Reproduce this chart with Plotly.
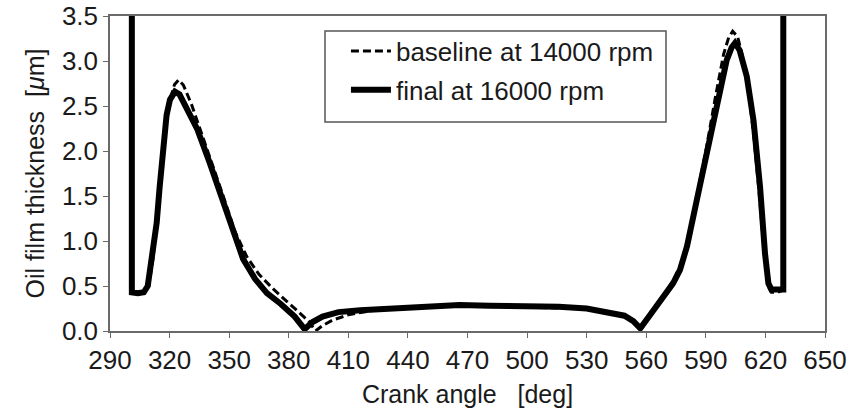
import plotly.graph_objects as go

# Crank angle [deg] and oil film thickness [um] for the two operating points
baseline_angle = [301, 301, 304, 307.5, 309.5, 311.5, 313.5, 315.5, 317.5, 320, 322.5, 324.5,
                  327, 331, 336, 341, 347, 353, 359, 365, 372, 379, 386, 390, 393.5, 397,
                  402, 410, 420, 430, 450, 470, 490, 510, 525, 535, 542, 548, 553, 557.5,
                  561, 565, 569, 573.5, 577, 580.5, 585, 590, 595, 599, 601.5, 603.5, 606,
                  608.5, 611, 614, 617, 619.5, 621.3, 623, 626, 628.7, 628.7]
baseline_thk = [4.5, 0.43, 0.42, 0.43, 0.5, 0.78, 1.2, 1.65, 2.15, 2.55, 2.74, 2.79,
                2.73, 2.52, 2.2, 1.9, 1.5, 1.1, 0.82, 0.63, 0.47, 0.33, 0.19, 0.11, 0.0, 0.06,
                0.12, 0.18, 0.22, 0.25, 0.27, 0.28, 0.27, 0.26, 0.25, 0.23, 0.21, 0.17, 0.11, 0.02,
                0.14, 0.26, 0.4, 0.56, 0.72, 0.95, 1.45, 2.0, 2.62, 3.08, 3.26, 3.33, 3.27,
                3.05, 2.75, 2.2, 1.5, 0.85, 0.5, 0.43, 0.43, 0.45, 4.5]

final_angle = [301, 301, 304, 307, 309, 311, 313.5, 315, 316.8, 318.5, 320.2, 322.7, 325,
               329, 334, 340, 345, 351, 357, 363, 369, 376, 383, 388, 392, 397, 405, 416,
               430, 447, 466, 481, 500, 516, 530, 542, 549, 553.5, 557, 561, 565, 569,
               573.5, 577, 580.5, 585.5, 590.5, 595.5, 600.5, 603, 604.7, 607, 610.6, 614,
               617.3, 619.8, 621.5, 623, 626, 629, 629]
final_thk = [4.5, 0.43, 0.42, 0.43, 0.5, 0.8, 1.2, 1.6, 2.09, 2.4, 2.57, 2.66, 2.63,
             2.47, 2.24, 1.88, 1.55, 1.15, 0.8, 0.58, 0.42, 0.3, 0.16, 0.02, 0.1, 0.16, 0.21, 0.23,
             0.25, 0.27, 0.29, 0.28, 0.28, 0.27, 0.25, 0.21, 0.17, 0.11, 0.03, 0.15, 0.27, 0.4,
             0.53, 0.68, 0.94, 1.46, 1.97, 2.53, 3.01, 3.15, 3.2, 3.12, 2.83, 2.34,
             1.6, 0.86, 0.53, 0.46, 0.46, 0.46, 4.5]

series_names = ["baseline at 14000 rpm", "final at 16000 rpm"]
x_ticks = [290, 320, 350, 380, 410, 440, 470, 500, 530, 560, 590, 620, 650]
y_ticks = [0.0, 0.5, 1.0, 1.5, 2.0, 2.5, 3.0, 3.5]

FONT = "Liberation Sans, Arial, sans-serif"
AXIS_GREY = "#6a6a6a"

fig = go.Figure()
fig.add_trace(go.Scatter(
    x=baseline_angle, y=baseline_thk, mode="lines", name=series_names[0],
    legendgroup="base",
    line=dict(color="black", width=3, dash="8px,4px"),
))
fig.add_trace(go.Scatter(
    x=final_angle, y=final_thk, mode="lines", name=series_names[1],
    legendgroup="final",
    line=dict(color="black", width=6),
))

# framed legend panel
fig.add_shape(
    type="rect", xref="paper", yref="paper",
    x0=0.3007, x1=0.7776, y0=0.6635, y1=0.9524,
    line=dict(color="#555555", width=1.5), fillcolor="white", layer="above",
)

fig.update_layout(
    width=861, height=410,
    margin=dict(l=110, r=36, t=16, b=79, autoexpand=False),
    paper_bgcolor="white", plot_bgcolor="white",
    font=dict(family=FONT, size=25, color="#1a1a1a"),
    showlegend=True,
    legend=dict(
        x=0.33, y=0.9635, xanchor="left", yanchor="top",
        bgcolor="rgba(0,0,0,0)", borderwidth=0,
        font=dict(family=FONT, size=26, color="#1a1a1a"),
        tracegroupgap=2, itemwidth=40,
    ),
    xaxis=dict(
        range=[290, 650], tickvals=x_ticks, ticktext=[str(v) for v in x_ticks],
        showgrid=False, zeroline=False, automargin=False,
        showline=True, linecolor=AXIS_GREY, linewidth=1.5, mirror=True,
        ticks="outside", ticklen=5, tickcolor=AXIS_GREY,
        tickfont=dict(size=26),
        title=dict(text="Crank angle   [deg]", font=dict(size=25), standoff=12),
    ),
    yaxis=dict(
        range=[0, 3.5], tickvals=y_ticks, ticktext=[f"{v:.1f}" for v in y_ticks],
        showgrid=False, zeroline=False, automargin=False,
        showline=True, linecolor=AXIS_GREY, linewidth=1.5, mirror=True,
        ticks="outside", ticklen=5, tickcolor=AXIS_GREY,
        tickfont=dict(size=26),
        title=dict(text="Oil film thickness  [<i>μ</i>m]", font=dict(size=25), standoff=10),
    ),
)

fig.write_html("out.html")
